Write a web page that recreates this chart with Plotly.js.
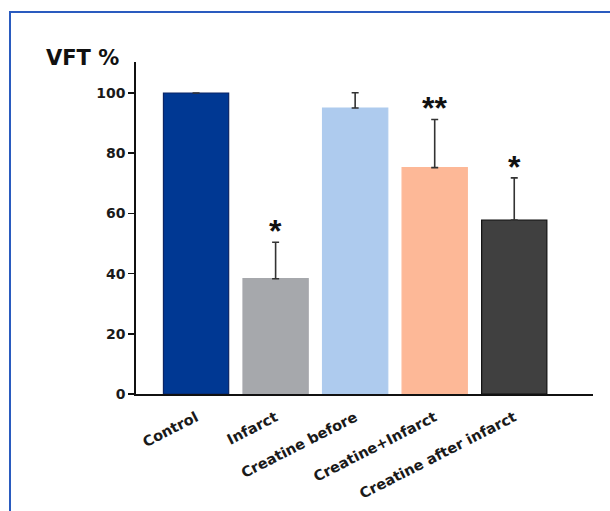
<!DOCTYPE html>
<html>
<head>
<meta charset="utf-8">
<script src="https://cdn.plot.ly/plotly-3.0.1.min.js"></script>
<style>
  html, body { margin: 0; padding: 0; background: #ffffff; }
  #frame { position: absolute; left: 9px; top: 11px; width: 700px; height: 600px;
           border-left: 2px solid #2a5bbf; border-top: 2px solid #2a5bbf; }
  #chart { position: absolute; left: 0; top: 0; width: 610px; height: 511px; }
</style>
</head>
<body>
<div id="frame"></div>
<div id="chart"></div>
<script>
const categories = ["Control", "Infarct", "Creatine before", "Creatine+Infarct", "Creatine after infarct"];
const values = [100, 38.3, 95, 75.2, 57.8];
const errorsUp = [0, 12.1, 5.1, 16.0, 14.0];
const significance = ["", "*", "", "**", "*"];
const barColors = ["#003893", "#a6a8ac", "#aecbee", "#fdb897", "#404040"];
const barLineColors = ["#0b2566", "#a6a8ac", "#aecbee", "#fdb897", "#111111"];

const FONT = "DejaVu Sans, Liberation Sans, Arial, sans-serif";

const bars = {
  type: "bar",
  x: categories,
  y: values,
  marker: { color: barColors, line: { color: barLineColors, width: 1.2 } },
  error_y: { type: "data", symmetric: false, array: errorsUp, arrayminus: values.map(() => 0),
             color: "#333333", thickness: 1.6, width: 3.5 },
  hoverinfo: "x+y",
  showlegend: false
};

const annotations = categories.map((c, i) => ({
  x: c, y: values[i] + errorsUp[i], xref: "x", yref: "y",
  text: significance[i], showarrow: false, yshift: 11,
  font: { family: "Liberation Sans, Arial, sans-serif", size: 32, color: "#111111", weight: "bold" }
})).filter(a => a.text !== "");

annotations.push({
  xref: "paper", yref: "paper", x: -0.118, y: 1.012, xanchor: "center", yanchor: "middle",
  text: "<b>VFT %</b>", showarrow: false,
  font: { family: FONT, size: 21, color: "#111111" }
});

const layout = {
  width: 610, height: 511,
  margin: { l: 136, r: 17, t: 62, b: 117 },
  paper_bgcolor: "rgba(0,0,0,0)",
  plot_bgcolor: "rgba(0,0,0,0)",
  bargap: 0.18,
  xaxis: {
    type: "category",
    range: [-0.755, 4.99],
    showline: true, linecolor: "#111111", linewidth: 1.6,
    ticks: "", showgrid: false, zeroline: false,
    tickangle: -27,
    ticklabelstandoff: 8,
    tickfont: { family: FONT, size: 14.5, color: "#1a1a1a", weight: "bold" }
  },
  yaxis: {
    range: [0, 110.3],
    tickvals: [0, 20, 40, 60, 80, 100],
    showline: true, linecolor: "#111111", linewidth: 1.6,
    ticks: "outside", ticklen: 6, tickwidth: 1.6, tickcolor: "#111111",
    showgrid: false, zeroline: false,
    tickfont: { family: FONT, size: 14, color: "#1a1a1a", weight: "bold" }
  },
  annotations: annotations
};

Plotly.newPlot("chart", [bars], layout, { displayModeBar: false, staticPlot: true });
</script>
</body>
</html>
